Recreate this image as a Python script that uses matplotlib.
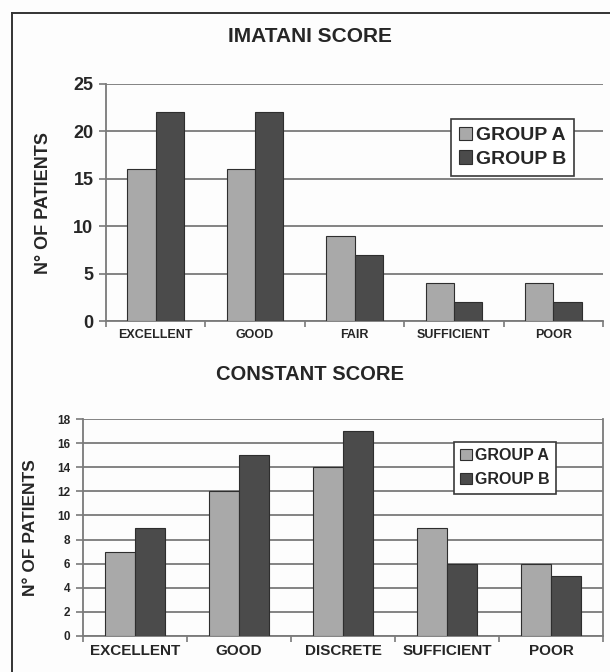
import matplotlib
matplotlib.use("Agg")
import matplotlib.pyplot as plt
from matplotlib.lines import Line2D
import numpy as np

plt.rcParams['font.family'] = ['Liberation Sans', 'DejaVu Sans']
plt.rcParams['font.weight'] = 'bold'

# Imatani score
imatani_categories = ["EXCELLENT", "GOOD", "FAIR", "SUFFICIENT", "POOR"]
imatani_group_a = [16, 16, 9, 4, 4]
imatani_group_b = [22, 22, 7, 2, 2]
imatani_ticks = [0, 5, 10, 15, 20, 25]

# Constant score
constant_categories = ["EXCELLENT", "GOOD", "DISCRETE", "SUFFICIENT", "POOR"]
constant_group_a = [7, 12, 14, 9, 6]
constant_group_b = [9, 15, 17, 6, 5]
constant_ticks = [0, 2, 4, 6, 8, 10, 12, 14, 16, 18]

series_names = ["GROUP A", "GROUP B"]
COLOR_A = "#a9a9a9"
COLOR_B = "#4b4b4b"
EDGE = "#2e2e2e"
TEXT = "#262626"
GRID = "#7a7a7a"

fig = plt.figure(figsize=(6.10, 6.72), dpi=100, facecolor="#fdfdfd")

# outer frame: left and top edges only, running off the page
fx, fy = 12 / 610, 1 - 13 / 672
fig.add_artist(Line2D([fx, fx], [0, fy], transform=fig.transFigure,
                      color="#333333", linewidth=1.4))
fig.add_artist(Line2D([fx, 1], [fy, fy], transform=fig.transFigure,
                      color="#333333", linewidth=1.4))


def draw_panel(rect, cats, a_vals, b_vals, ticks, bar_w, tick_fs, cat_fs,
               ylab_fs, ylab_x, leg_fs, leg_anchor, leg_spacing, right_spine):
    ax = fig.add_axes(rect)
    ax.set_facecolor("none")
    x = np.arange(len(cats))
    ax.bar(x - bar_w / 2, a_vals, width=bar_w, color=COLOR_A, edgecolor=EDGE,
           linewidth=0.8, zorder=3, label=series_names[0])
    ax.bar(x + bar_w / 2, b_vals, width=bar_w, color=COLOR_B, edgecolor=EDGE,
           linewidth=0.8, zorder=3, label=series_names[1])
    ax.set_xlim(-0.5, len(cats) - 0.5)
    ax.set_ylim(ticks[0], ticks[-1])
    ax.set_yticks(ticks)
    ax.set_yticklabels([str(t) for t in ticks], fontsize=tick_fs,
                       fontweight="bold", color=TEXT)
    ax.yaxis.grid(True, color=GRID, linewidth=1.3, zorder=1)
    ax.set_axisbelow(True)
    # category labels centred, tick marks at the boundaries
    ax.set_xticks(x)
    ax.set_xticklabels(cats, fontsize=cat_fs, fontweight="bold", color=TEXT)
    ax.tick_params(axis="x", length=0, pad=6)
    ax.set_xticks(np.arange(len(cats) + 1) - 0.5, minor=True)
    ax.tick_params(axis="x", which="minor", length=4, width=1.2, color=GRID,
                   direction="out")
    ax.tick_params(axis="y", length=5, width=1.2, color=GRID, pad=4)
    ax.spines["top"].set_visible(False)
    ax.spines["right"].set_visible(right_spine)
    for side in ("left", "bottom", "right"):
        ax.spines[side].set_color(GRID)
        ax.spines[side].set_linewidth(1.3)
    fig.text(ylab_x, rect[1] + rect[3] / 2, "N° OF PATIENTS", rotation=90,
             ha="center", va="center", fontsize=ylab_fs, fontweight="bold",
             color=TEXT)
    leg = ax.legend(loc="upper left", bbox_to_anchor=leg_anchor,
                    bbox_transform=fig.transFigure, fancybox=False,
                    framealpha=1, edgecolor="#3a3a3a",
                    prop={"size": leg_fs, "weight": "bold"},
                    handlelength=0.7, handleheight=0.7, handletextpad=0.2,
                    borderpad=0.4, labelspacing=leg_spacing, borderaxespad=0)
    leg.get_frame().set_linewidth(1.2)
    for t in leg.get_texts():
        t.set_color(TEXT)
    return ax


draw_panel([106 / 610, 1 - 321 / 672, 497 / 610, 237 / 672],
           imatani_categories, imatani_group_a, imatani_group_b,
           imatani_ticks, 0.285, 13, 9, 13, 44 / 610, 14,
           (451 / 610, 1 - 119 / 672), 0.3, False)
fig.text(310 / 610, 1 - 36 / 672, "IMATANI SCORE", ha="center", va="center",
         fontsize=15, fontweight="bold", color=TEXT)

draw_panel([83 / 610, 1 - 636 / 672, 520 / 610, 217 / 672],
           constant_categories, constant_group_a, constant_group_b,
           constant_ticks, 0.29, 8.5, 11, 12.5, 31 / 610, 11.5,
           (454 / 610, 1 - 442 / 672), 0.55, True)
fig.text(310 / 610, 1 - 375 / 672, "CONSTANT SCORE", ha="center",
         va="center", fontsize=14.5, fontweight="bold", color=TEXT)

fig.savefig("out.png", dpi=100, facecolor=fig.get_facecolor())
